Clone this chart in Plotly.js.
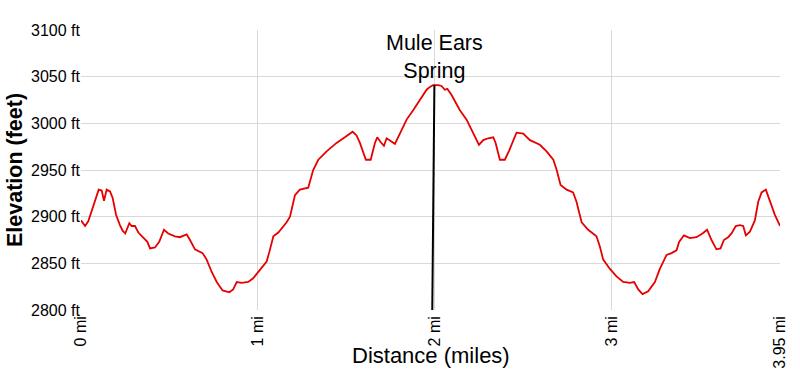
<!DOCTYPE html>
<html><head><meta charset="utf-8">
<script src="https://cdn.plot.ly/plotly-3.0.1.min.js"></script>
<style>html,body{margin:0;padding:0;background:#fff}#c{width:800px;height:382px}</style>
</head><body><div id="c"></div>
<script>
const distance = [0,0.023,0.041,0.07,0.10,0.117,0.13,0.145,0.164,0.179,0.198,0.22,0.235,0.25,0.273,0.286,0.305,0.324,0.352,0.375,0.39,0.418,0.442,0.469,0.493,0.531,0.559,0.597,0.616,0.644,0.687,0.71,0.738,0.767,0.80,0.838,0.86,0.88,0.908,0.945,0.973,1.007,1.03,1.049,1.064,1.087,1.115,1.162,1.181,1.209,1.237,1.284,1.312,1.341,1.388,1.444,1.491,1.535,1.557,1.576,1.61,1.637,1.661,1.674,1.693,1.712,1.727,1.75,1.774,1.802,1.84,1.877,1.915,1.953,1.972,1.99,2.019,2.037,2.056,2.07,2.095,2.141,2.179,2.217,2.249,2.273,2.301,2.33,2.343,2.367,2.395,2.42,2.461,2.499,2.537,2.593,2.631,2.669,2.688,2.71,2.744,2.781,2.80,2.829,2.866,2.913,2.932,2.951,2.989,3.026,3.064,3.102,3.126,3.149,3.173,3.205,3.243,3.271,3.309,3.337,3.365,3.38,3.407,3.441,3.478,3.512,3.538,3.563,3.591,3.614,3.633,3.657,3.676,3.70,3.723,3.742,3.757,3.78,3.808,3.827,3.846,3.87,3.893,3.921,3.95];
const elevation = [2896,2890,2895,2911,2929,2928,2917,2929,2927,2920,2902,2891,2885,2882,2893,2890,2890,2883,2878,2873,2866,2867,2873,2886,2882,2879,2878,2881,2875,2865,2861,2854,2841,2830,2821,2819,2822,2830,2829,2830,2834,2842,2847,2852,2862,2879,2883,2894,2900,2923,2929,2931,2950,2961,2970,2979,2985,2991,2987,2979,2961,2961,2979,2985,2980,2976,2984,2981,2978,2989,3004,3014,3025,3036,3039,3041,3041,3040,3036,3037,3030,3014,3004,2989,2977,2982,2984,2985,2979,2961,2961,2971,2990,2989,2982,2977,2970,2961,2950,2934,2929,2926,2916,2894,2886,2879,2868,2854,2844,2836,2830,2829,2830,2822,2817,2820,2830,2844,2859,2861,2864,2873,2880,2877,2878,2882,2886,2875,2865,2866,2875,2878,2882,2890,2891,2890,2880,2884,2896,2916,2926,2929,2916,2902,2890];
const xTickVals = [0,1,2,3,3.95];
const xTickText = ["0 mi","1 mi","2 mi","3 mi","3.95 mi"];
const yTickVals = [2800,2850,2900,2950,3000,3050,3100];
const yTickText = ["2800 ft","2850 ft","2900 ft","2950 ft","3000 ft","3050 ft","3100 ft"];
const markerX = [1.985, 1.997];
const markerY = [2800, 3041];
const markerLabel = "Mule Ears<br>Spring";

const font = "Liberation Sans, Arial, sans-serif";
Plotly.newPlot('c', [
  {x: distance, y: elevation, type: 'scatter', mode: 'lines',
   line: {color: '#e60000', width: 1.8}, hoverinfo: 'skip'},
  {x: markerX, y: markerY, type: 'scatter', mode: 'lines',
   line: {color: '#000', width: 2}, hoverinfo: 'skip'}
], {
  width: 800, height: 382,
  margin: {l: 81, r: 20, t: 30, b: 72},
  paper_bgcolor: '#fff', plot_bgcolor: '#fff',
  showlegend: false,
  font: {family: font, color: '#000', size: 16},
  xaxis: {range: [0, 3.95], tickvals: xTickVals, ticktext: xTickText, tickangle: -90,
    showgrid: true, gridcolor: '#d9d9d9', gridwidth: 1, zeroline: false, showline: false,
    ticks: '', ticklabelstandoff: 2, tickfont: {size: 16, family: font, color: '#000'}, automargin: false},
  yaxis: {range: [2800, 3100], tickvals: yTickVals, ticktext: yTickText,
    showgrid: true, gridcolor: '#d9d9d9', gridwidth: 1, zeroline: false, showline: false,
    ticks: '', tickfont: {size: 16, family: font, color: '#000'}, automargin: false,
    title: {text: '<b>Elevation (feet)</b>', font: {size: 21.5, family: font, color: '#000'}, standoff: 2}},
  annotations: [
    {x: markerX[1], y: markerY[1], xref: 'x', yref: 'y', text: markerLabel,
     showarrow: false, yanchor: 'bottom', yshift: 0, font: {size: 21.5, family: font, color: '#000'}},
    {x: 0.5, y: -0.164, xref: 'paper', yref: 'paper', text: 'Distance (miles)',
     showarrow: false, yanchor: 'middle', xanchor: 'center',
     font: {size: 22, family: font, color: '#000'}}
  ]
}, {displayModeBar: false, staticPlot: true});
</script></body></html>
